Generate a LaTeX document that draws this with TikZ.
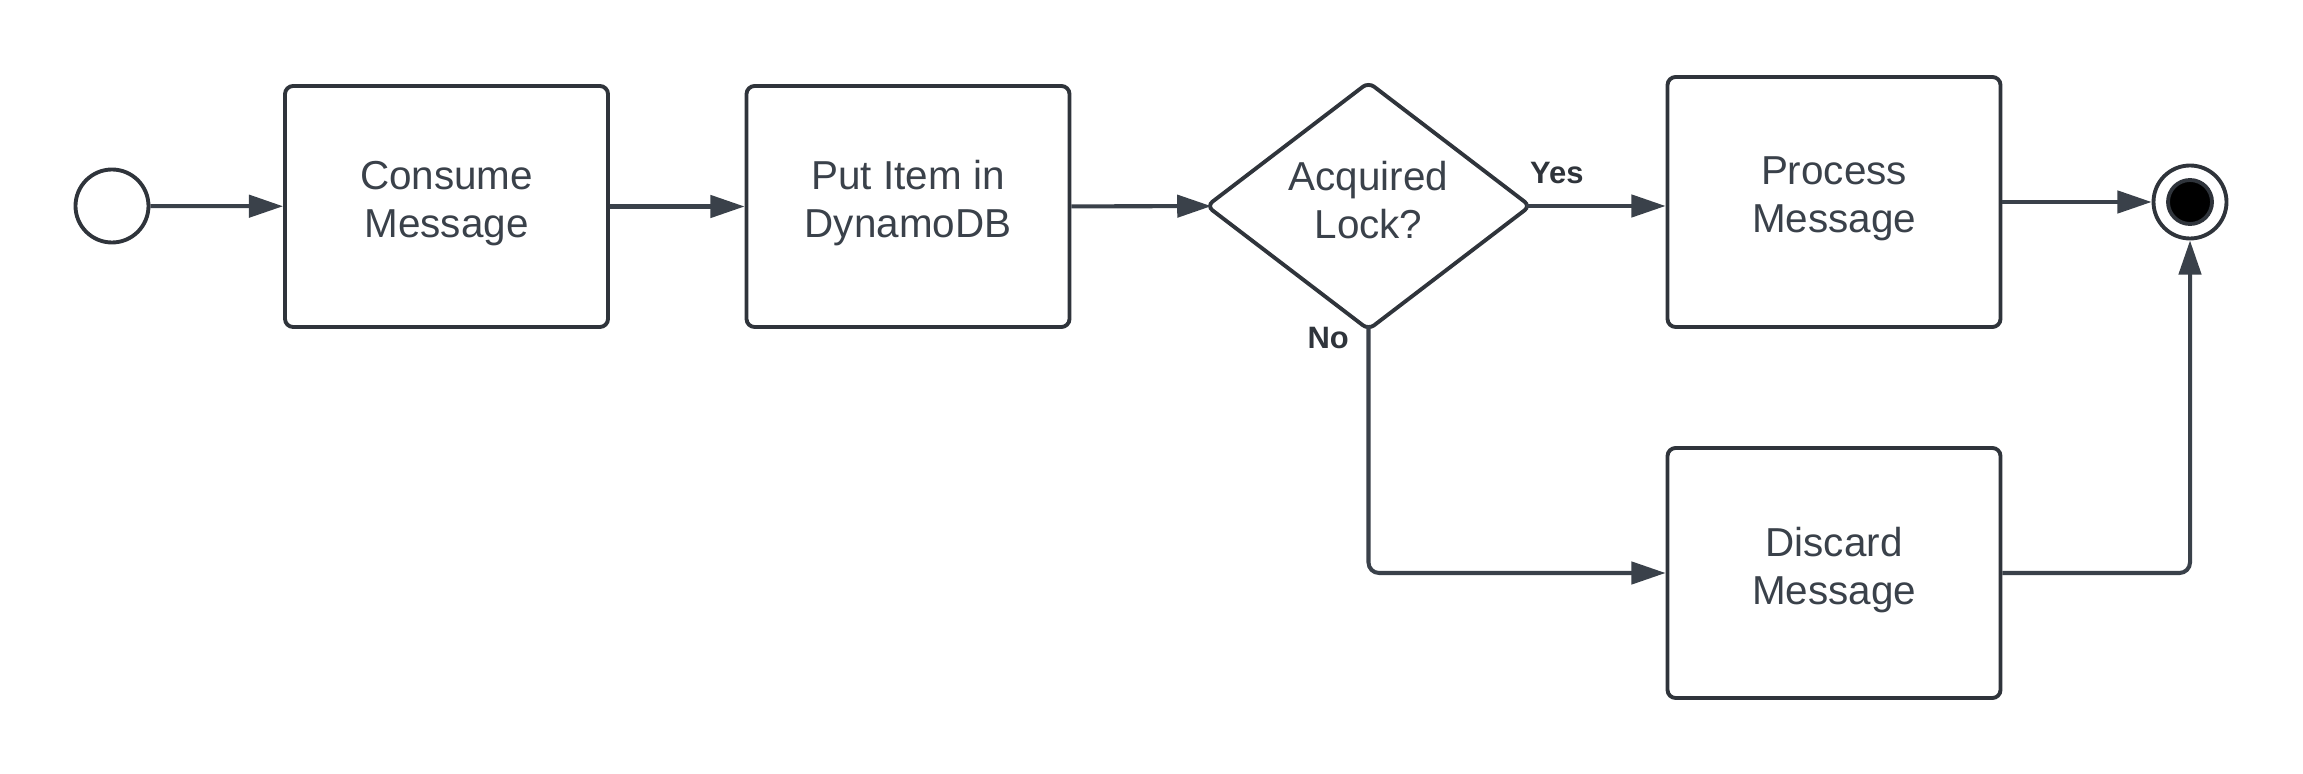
\documentclass[tikz,border=0pt]{standalone}
\usepackage{fontspec}
\setmainfont{Liberation Sans}
\usetikzlibrary{shapes,arrows.meta}
\definecolor{shapeline}{HTML}{2F343B}
\definecolor{flowline}{HTML}{3A414A}

\begin{document}
\begin{tikzpicture}[
  task/.style={shape=rectangle,draw=shapeline,rounded corners=2.3pt,line width=1.1pt,align=center,text=flowline,font=\fontsize{11.5}{13.65}\selectfont,text depth=4.2pt,minimum width=3.23cm,minimum height=2.41cm,inner sep=0pt},
  gate/.style={shape=diamond,draw=shapeline,rounded corners=2pt,line width=1.1pt,align=center,text=flowline,font=\fontsize{11.5}{13.65}\selectfont,text depth=3.4pt,minimum width=3.25cm,minimum height=2.38cm,inner sep=0pt},
  event/.style={shape=circle,draw=shapeline,line width=1.1pt,minimum size=0.73cm,inner sep=0pt},
  flow/.style={-{Triangle[length=9.7pt,width=6.3pt]},color=flowline,line width=1.15pt,rounded corners=3pt},
  guard/.style={font=\fontsize{8.8}{10}\selectfont\bfseries,text=shapeline}
]
\useasboundingbox (0,0) rectangle (23.03,-7.74);

\node[event] (0) at (1.12,-2.06) {};
\node[task] (1) at (4.465,-2.065) {Consume\\Message};
\node[task] (2) at (9.08,-2.065) {Put Item in\\DynamoDB};
\node[gate] (3) at (13.685,-2.06) {Acquired\\Lock?};
\node[task,minimum width=3.33cm,minimum height=2.5cm] (4) at (18.34,-2.02) {Process\\Message};
\node[task,minimum width=3.33cm,minimum height=2.5cm] (5) at (18.34,-5.73) {Discard\\Message};
\node[event] (6) at (21.90,-2.02) {};
\node[shape=circle,fill=black,draw=shapeline,line width=1.1pt,minimum size=0.44cm,inner sep=0pt] (6dot) at (6) {};

\path [flow] (0) edge (1);
\path [flow] (1) edge (2);
\path [flow,shorten >=-2pt] (2) edge (3);
\path [flow] (4) edge (6);
\draw [flow,shorten <=-2pt] (3) -- node[guard,pos=0.18,above=0.08cm] (yes) {Yes} (3 -| 4.west);
\draw [flow,shorten <=-2pt] (3.south) |- node[guard,pos=0.012,left=0.06cm] (no) {No} (5.west);
\draw [flow] (5.east) -| (6.south);
\end{tikzpicture}
\end{document}
